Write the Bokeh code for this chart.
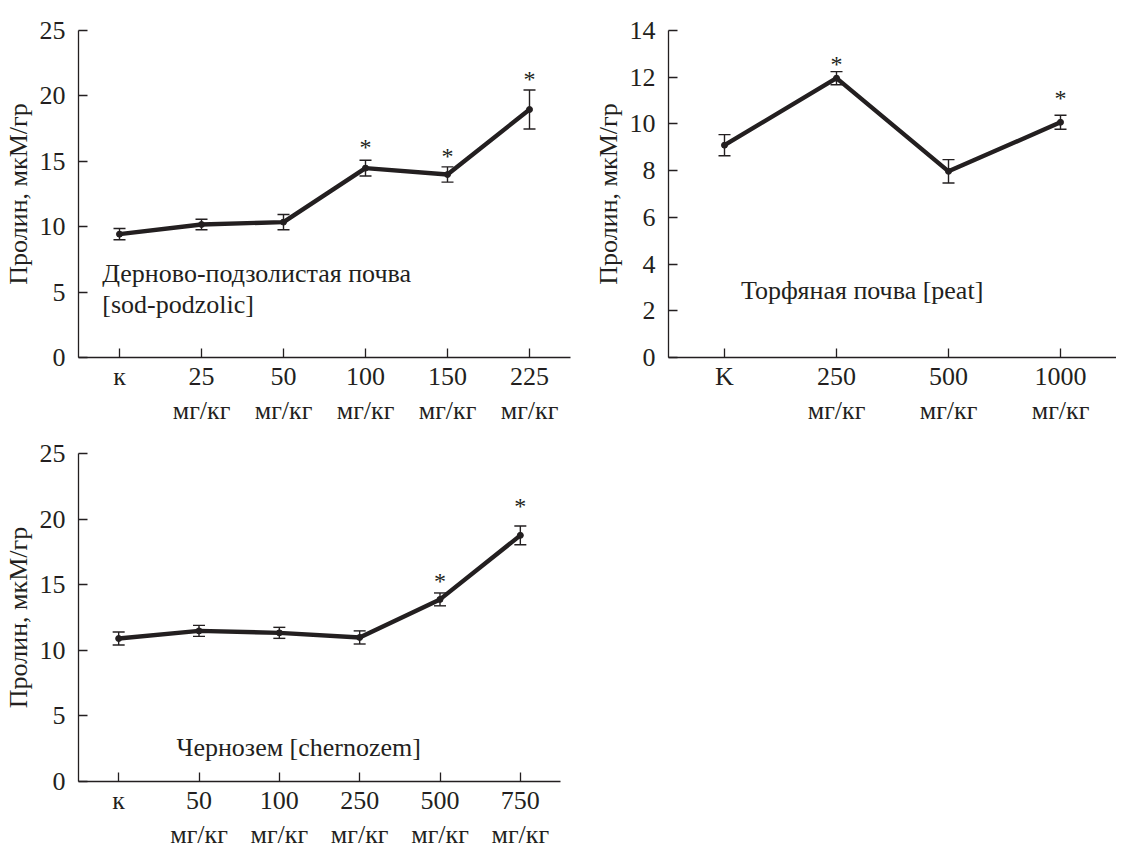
from bokeh.plotting import figure
from bokeh.layouts import column, row
from bokeh.models import Range1d, FactorRange, Whisker, TeeHead, ColumnDataSource
from bokeh.core.properties import value
from bokeh.embed import file_html
from bokeh.resources import INLINE

# ---------------- data ----------------
sod_doses = ["к", "25", "50", "100", "150", "225"]
sod_mean = [9.43, 10.17, 10.35, 14.48, 13.99, 18.96]
sod_err = [0.43, 0.40, 0.58, 0.60, 0.58, 1.49]
sod_star_idx = [3, 4, 5]
sod_star_y = [16.4, 15.7, 21.6]

peat_doses = ["K", "250", "500", "1000"]
peat_mean = [9.09, 11.96, 7.97, 10.07]
peat_err = [0.45, 0.28, 0.50, 0.30]
peat_star_idx = [1, 3]
peat_star_y = [12.73, 11.26]

cher_doses = ["к", "50", "100", "250", "500", "750"]
cher_mean = [10.90, 11.48, 11.33, 10.98, 13.88, 18.76]
cher_err = [0.50, 0.42, 0.42, 0.50, 0.49, 0.71]
cher_star_idx = [4, 5]
cher_star_y = [15.55, 21.33]

unit_label = "мг/кг"
y_label = "Пролин, мкМ/гр"

INK = "#231f20"
FONT = "Liberation Serif"


def style_axis(ax):
    ax.axis_line_color = INK
    ax.axis_line_width = 1.3
    ax.major_tick_line_color = INK
    ax.major_tick_line_width = 1.3
    ax.major_tick_in = 9
    ax.major_tick_out = 0
    ax.minor_tick_line_color = None
    ax.major_label_text_font = FONT
    ax.major_label_text_font_size = "26px"
    ax.major_label_text_color = INK


def make_panel(doses, mean, err, star_idx, star_y, ymax, nticks, width, height,
               borders, notes):
    factors = [d if i == 0 else d + "\n" + unit_label for i, d in enumerate(doses)]
    p = figure(width=width, height=height, output_backend="svg", toolbar_location=None,
               x_range=FactorRange(factors=factors, range_padding=0),
               y_range=Range1d(0, ymax),
               min_border_left=borders[0], min_border_right=borders[1],
               min_border_top=borders[2], min_border_bottom=borders[3])
    p.outline_line_color = None
    p.grid.visible = False
    p.yaxis.ticker.desired_num_ticks = nticks

    style_axis(p.xaxis[0])
    style_axis(p.yaxis[0])
    p.xaxis.major_label_standoff = 4
    p.xaxis.major_label_orientation = "horizontal"
    p.yaxis.major_label_standoff = 9
    p.yaxis.axis_label = y_label
    p.yaxis.axis_label_text_font = FONT
    p.yaxis.axis_label_text_font_size = "26px"
    p.yaxis.axis_label_text_font_style = "normal"
    p.yaxis.axis_label_text_color = INK
    p.yaxis.axis_label_standoff = 4

    upper = [m + e for m, e in zip(mean, err)]
    lower = [m - e for m, e in zip(mean, err)]
    src = ColumnDataSource(dict(x=factors, y=mean, upper=upper, lower=lower))
    w = Whisker(base="x", upper="upper", lower="lower", source=src,
                line_color=INK, line_width=1.4,
                upper_head=TeeHead(size=12, line_color=INK, line_width=1.4),
                lower_head=TeeHead(size=12, line_color=INK, line_width=1.4))
    p.add_layout(w)
    p.line("x", "y", source=src, line_width=4.4, line_color=INK, line_join="round")
    p.scatter("x", "y", source=src, size=6, color=INK)

    p.text(x=[factors[i] for i in star_idx], y=star_y, text=["*"] * len(star_idx),
           text_font=value(FONT), text_font_size="24px", text_align="center",
           text_baseline="middle", y_offset=4, text_color=INK)

    for (tx, ty, tt) in notes:
        p.text(x=[tx], y=[ty], text=[tt], text_font=value(FONT), text_font_size="26px",
               text_align="left", text_baseline="middle", text_color=INK)
    return p


p1 = make_panel(sod_doses, sod_mean, sod_err, sod_star_idx, sod_star_y, 25, 6,
                590, 428, (69, 20, 26, 66),
                [(0.29, 6.4, "Дерново-подзолистая почва"), (0.29, 4.07, "[sod-podzolic]")])

p2 = make_panel(peat_doses, peat_mean, peat_err, peat_star_idx, peat_star_y, 14, 8,
                526, 428, (69, 0, 30, 66),
                [(0.648, 2.85, "Торфяная почва [peat]")])

p3 = make_panel(cher_doses, cher_mean, cher_err, cher_star_idx, cher_star_y, 25, 6,
                580, 424, (68, 20, 25, 62),
                [(1.22, 2.57, "Чернозем [chernozem]")])

layout = column(row(p1, p2), p3)

open("out.html", "w").write(file_html(layout, INLINE))
